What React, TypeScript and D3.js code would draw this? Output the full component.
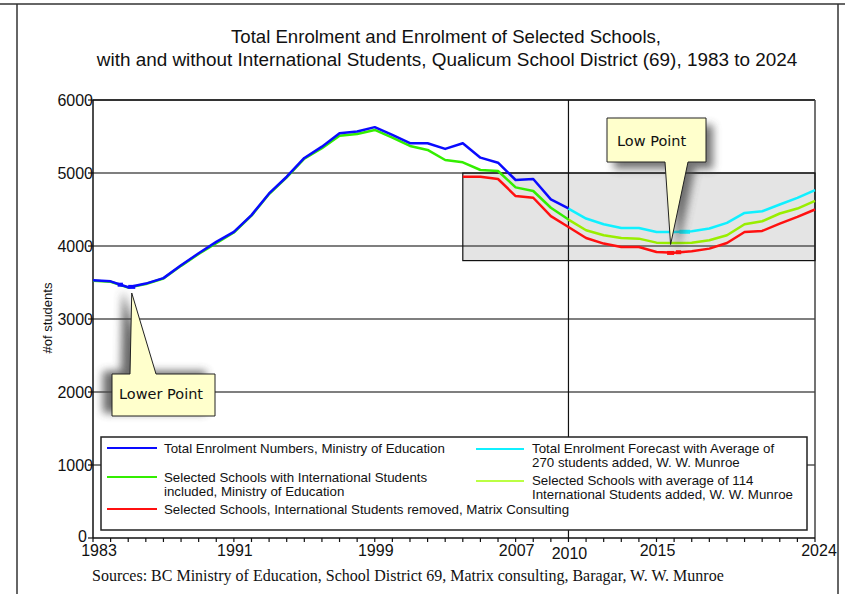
import React from 'react';
import * as d3 from 'd3';

// ---------- data ----------
const histYears = [1983,1984,1985,1986,1987,1988,1989,1990,1991,1992,1993,1994,1995,1996,1997,1998,1999,2000,2001,2002,2003,2004,2005,2006,2007,2008,2009,2010];
const totalEnrolment = [3530,3516,3435,3485,3560,3736,3900,4056,4194,4423,4720,4949,5206,5361,5545,5568,5628,5522,5408,5408,5330,5408,5210,5141,4904,4918,4639,4515];
const selectedWithIntl = [3525,3510,3430,3480,3555,3728,3890,4040,4185,4415,4712,4940,5195,5340,5511,5535,5590,5485,5370,5316,5178,5146,5041,5027,4803,4753,4524,4364];

const forecastYears = [2010,2011,2012,2013,2014,2015,2016,2017,2018,2019,2020,2021,2022,2023,2024];
const totalForecast = [4513,4376,4298,4247,4247,4192,4192,4202,4239,4316,4453,4476,4568,4659,4765];
const selectedForecast = [4362,4215,4147,4110,4101,4046,4041,4046,4078,4147,4298,4339,4445,4513,4618];

const removedYears = [2004,2005,2006,2007,2008,2009,2010,2011,2012,2013,2014,2015,2016,2017,2018,2019,2020,2021,2022,2023,2024];
const selectedRemoved = [4949,4949,4918,4684,4661,4409,4261,4110,4033,3986,3986,3917,3909,3927,3964,4041,4192,4206,4307,4398,4500];

// small emphasised segments at the low points: [yearStart, yearEnd, value]
const blueLowMarks = [[1984.4, 1984.7, 3470], [1985.0, 1985.4, 3440]];
const redLowMarks = [[2015.6, 2016.0, 3905], [2016.1, 2016.4, 3915]];
const cyanLowMarks = [[2016.3, 2016.9, 4195]];

const yTicks = [0,1000,2000,3000,4000,5000,6000];
const xTickLabels = [1983,1991,1999,2007,2010,2015,2024];
const highlightBox = { x0: 2004, x1: 2024, y0: 3800, y1: 5000 };
const lowPoint = { year: 2015.8, value: 4020 };
const lowerPoint = { year: 1985.2, value: 3356 };

const COLORS = {
  blue: '#0a0aff',
  green: '#33ee00',
  red: '#ff1010',
  cyan: '#10f0ff',
  yg: '#99ee00',
};

const legendLeft = [
  { color: COLORS.blue, lines: ['Total Enrolment Numbers, Ministry of Education'], y: 448 },
  { color: COLORS.green, lines: ['Selected Schools with International Students', 'included, Ministry of Education'], y: 477 },
  { color: COLORS.red, lines: ['Selected Schools, International Students removed, Matrix Consulting'], y: 509 },
];
const legendRight = [
  { color: COLORS.cyan, lines: ['Total Enrolment Forecast with Average of', '270 students added, W. W. Munroe'], y: 449 },
  { color: '#bbff44', lines: ['Selected Schools with average of 114', 'International Students added, W. W. Munroe'], y: 481 },
];

const SANS = '"Liberation Sans", Arial, sans-serif';
const SERIF = '"Liberation Serif", "Times New Roman", serif';
const CALLOUT = '"DejaVu Sans", Verdana, sans-serif';

export default function App() {
  const W = 845, H = 594;
  const x = d3.scaleLinear().domain([1983, 2024]).range([93, 815]);
  const y = d3.scaleLinear().domain([0, 6000]).range([538, 100]);
  const line = d3.line<[number, number]>().x(d => x(d[0])).y(d => y(d[1]));
  const zip = (a: number[], b: number[]) => a.map((v, i) => [v, b[i]] as [number, number]);

  const allYears = d3.range(1983, 2025);

  const lpTip = [x(lowPoint.year), y(lowPoint.value)];
  const lwTip = [x(lowerPoint.year), y(lowerPoint.value)];

  const lowPath = `M607,118 H706 V162 H688 L${lpTip[0]},${lpTip[1]} L665,162 H607 Z`;
  const lowerPath = `M112,374 H130 L${lwTip[0]},${lwTip[1]} L156,374 H215 V416 H112 Z`;

  const marks = (arr: number[][], color: string) => arr.map((m, i) => (
    <line key={color + i} x1={x(m[0])} x2={x(m[1])} y1={y(m[2])} y2={y(m[2])} stroke={color} strokeWidth={4} />
  ));

  return (
    <svg width={W} height={H} style={{ position: 'absolute', left: 0, top: 0, background: '#fff' }}>
      <defs>
        <filter id="shadow" x="-50%" y="-50%" width="200%" height="200%">
          <feGaussianBlur stdDeviation="4" />
        </filter>
      </defs>
      <rect width={W} height={H} fill="#fff" />
      {/* outer frame */}
      <line x1={0} x2={W} y1={4} y2={4} stroke="#333" strokeWidth={1.5} />
      <line x1={17} x2={17} y1={4} y2={H} stroke="#333" strokeWidth={1.5} />
      <line x1={838} x2={838} y1={4} y2={H} stroke="#333" strokeWidth={1.5} />

      {/* title */}
      <text x={446} y={43} textAnchor="middle" fontFamily={SANS} fontSize={18.6} fill="#111">Total Enrolment and Enrolment of Selected Schools,</text>
      <text x={447} y={66} textAnchor="middle" fontFamily={SANS} fontSize={18.9} fill="#111">with and without International Students, Qualicum School District (69), 1983 to 2024</text>

      {/* highlight box fill */}
      <rect x={x(highlightBox.x0)} y={y(highlightBox.y1)} width={x(highlightBox.x1) - x(highlightBox.x0)} height={y(highlightBox.y0) - y(highlightBox.y1)} fill="#e4e4e4" />

      {/* gridlines */}
      {yTicks.filter(t => t > 0).map(t => (
        <line key={t} x1={93} x2={815} y1={y(t)} y2={y(t)} stroke={t === 6000 ? '#333' : '#555'} strokeWidth={t === 6000 ? 2 : 1.5} />
      ))}
      {/* right border */}
      <line x1={815} x2={815} y1={y(6000)} y2={y(0)} stroke="#444" strokeWidth={1.5} />
      {/* 2010 vertical */}
      <line x1={x(2010)} x2={x(2010)} y1={y(6000)} y2={y(0)} stroke="#111" strokeWidth={1.2} />

      {/* highlight box border */}
      <rect x={x(highlightBox.x0)} y={y(highlightBox.y1)} width={x(highlightBox.x1) - x(highlightBox.x0)} height={y(highlightBox.y0) - y(highlightBox.y1)} fill="none" stroke="#111" strokeWidth={1.2} />

      {/* legend */}
      <rect x={101} y={437} width={706} height={93} fill="#fff" stroke="#222" strokeWidth={1.5} />
      {legendLeft.map((e, i) => (
        <g key={i}>
          <line x1={107} x2={157} y1={e.y} y2={e.y} stroke={e.color} strokeWidth={2} />
          {e.lines.map((t, j) => (
            <text key={j} x={164} y={e.y + 4.5 + j * 14.5} fontFamily={SANS} fontSize={13.3} fill="#111">{t}</text>
          ))}
        </g>
      ))}
      {legendRight.map((e, i) => (
        <g key={i}>
          <line x1={476} x2={524} y1={e.y} y2={e.y} stroke={e.color} strokeWidth={2} />
          {e.lines.map((t, j) => (
            <text key={j} x={532} y={e.y + 3.5 + j * 14.5} fontFamily={SANS} fontSize={13.3} fill="#111">{t}</text>
          ))}
        </g>
      ))}

      {/* axes */}
      <line x1={93} x2={93} y1={y(6000)} y2={y(0)} stroke="#111" strokeWidth={1.5} />
      <line x1={93} x2={815} y1={y(0)} y2={y(0)} stroke="#111" strokeWidth={1.5} />
      {yTicks.map(t => (
        <g key={t}>
          <line x1={88} x2={93} y1={y(t)} y2={y(t)} stroke="#111" strokeWidth={1.2} />
          <text x={t === 0 ? 87 : 93} y={y(t) + (t === 0 ? 3.5 : 5.5)} textAnchor="end" fontFamily={SANS} fontSize={16} fill="#111">{t}</text>
        </g>
      ))}
      {allYears.map(yr => (
        <line key={yr} x1={x(yr)} x2={x(yr)} y1={y(0)} y2={y(0) + 4} stroke="#111" strokeWidth={1.2} />
      ))}
      {xTickLabels.map(yr => (
        <text key={yr}
          x={x(yr) + (yr === 1983 ? 6 : yr === 2024 ? 4 : 1)}
          y={yr === 2010 ? 559 : 556}
          textAnchor="middle" fontFamily={SANS} fontSize={16} fill="#111">{yr}</text>
      ))}
      <text transform="translate(52,318) rotate(-90)" textAnchor="middle" fontFamily={SANS} fontSize={13} fill="#111">#of students</text>

      {/* series */}
      <path d={line(zip(histYears, selectedWithIntl)) || ''} fill="none" stroke={COLORS.green} strokeWidth={2.5} strokeLinejoin="round" />
      <path d={line(zip(histYears, totalEnrolment)) || ''} fill="none" stroke={COLORS.blue} strokeWidth={2.5} strokeLinejoin="round" />
      <path d={line(zip(removedYears, selectedRemoved)) || ''} fill="none" stroke={COLORS.red} strokeWidth={2.5} strokeLinejoin="round" />
      <path d={line(zip(forecastYears, selectedForecast)) || ''} fill="none" stroke={COLORS.yg} strokeWidth={2.5} strokeLinejoin="round" />
      <path d={line(zip(forecastYears, totalForecast)) || ''} fill="none" stroke={COLORS.cyan} strokeWidth={2.5} strokeLinejoin="round" />
      {marks(blueLowMarks, COLORS.blue)}
      {marks(redLowMarks, COLORS.red)}
      {marks(cyanLowMarks, COLORS.cyan)}

      {/* callouts */}
      <path d={lowPath} transform="translate(7,7)" fill="#444" opacity={0.75} filter="url(#shadow)" />
      <path d={lowPath} fill="#ffffcc" stroke="#222" strokeWidth={1} />
      <text x={617} y={146} fontFamily={CALLOUT} fontSize={14.5} fill="#111">Low Point</text>

      <path d={lowerPath} transform="translate(-9,-3)" fill="#444" opacity={0.8} filter="url(#shadow)" />
      <path d={lowerPath} fill="#ffffcc" stroke="#222" strokeWidth={1} />
      <text x={119} y={399} fontFamily={CALLOUT} fontSize={14.5} fill="#111">Lower Point</text>

      {/* sources */}
      <text x={92} y={581} fontFamily={SERIF} fontSize={16} fill="#111">Sources: BC Ministry of Education, School District 69, Matrix consulting, Baragar, W. W. Munroe</text>
    </svg>
  );
}
